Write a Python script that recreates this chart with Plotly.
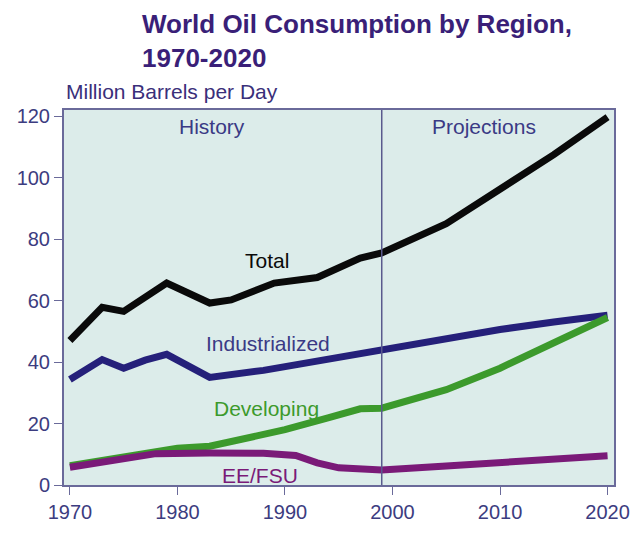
import plotly.graph_objects as go

total_years = [1970, 1973, 1975, 1979, 1983, 1985, 1989, 1993, 1997, 1999, 2005, 2010, 2015, 2020]
total_vals = [47, 57.8, 56.5, 65.7, 59.2, 60.2, 65.7, 67.5, 73.8, 75.5, 85, 96.5, 107.5, 119.7]

ind_years = [1970, 1973, 1975, 1977, 1979, 1983, 1988, 1993, 1999, 2005, 2010, 2015, 2020]
ind_vals = [34.3, 40.8, 38.0, 40.6, 42.5, 35.0, 37.3, 40.3, 44.4, 47.6, 50.6, 53.0, 55.2]

dev_years = [1970, 1975, 1980, 1983, 1987, 1990, 1994, 1997, 1999, 2005, 2010, 2015, 2020]
dev_vals = [6.3, 9.3, 12.0, 12.6, 15.5, 18.0, 21.8, 24.8, 25.0, 31.0, 38.0, 46.5, 54.5]

ee_years = [1970, 1975, 1978, 1983, 1988, 1991, 1993, 1995, 1999, 2005, 2010, 2015, 2020]
ee_vals = [5.8, 8.8, 10.2, 10.4, 10.3, 9.6, 7.2, 5.6, 4.9, 6.2, 7.3, 8.4, 9.5]

series = [
    ("Total", total_years, total_vals, "#0a0a0a"),
    ("Industrialized", ind_years, ind_vals, "#25207a"),
    ("Developing", dev_years, dev_vals, "#3c9a2c"),
    ("EE/FSU", ee_years, ee_vals, "#7a1a78"),
]

x_ticks = [1970, 1980, 1990, 2000, 2010, 2020]
y_ticks = [0, 20, 40, 60, 80, 100, 120]
divider_year = 1999

labels = [
    ("Total", 1988.3, 73, "#0a0a0a"),
    ("Industrialized", 1988.4, 46, "#3a3a85"),
    ("Developing", 1988.3, 24.8, "#3c9a2c"),
    ("EE/FSU", 1987.7, 3.0, "#7a1a78"),
    ("History", 1983.2, 116.5, "#3a3a85"),
    ("Projections", 2008.5, 116.5, "#3a3a85"),
]

title_text = "<b>World Oil Consumption by Region,<br>1970-2020</b>"
unit_text = "Million Barrels per Day"

FONT = "Liberation Sans, Arial, sans-serif"
AX = "#6a6a9a"
TICK = "#3c3c80"

fig = go.Figure()
for name, xs, ys, col in series:
    fig.add_trace(go.Scatter(x=xs, y=ys, mode="lines", name=name,
                             line=dict(color=col, width=7), showlegend=False))

fig.add_shape(type="line", x0=divider_year, x1=divider_year, y0=0, y1=1,
              xref="x", yref="paper", line=dict(color="#5a5a8e", width=1.5))

for txt, x, y, col in labels:
    fig.add_annotation(x=x, y=y, text=txt, showarrow=False,
                       font=dict(family=FONT, size=21, color=col))

fig.add_annotation(text=title_text, xref="paper", yref="paper",
                   x=(141 - 64) / 558, y=1 + (110 - 4) / 385,
                   xanchor="left", yanchor="top", align="left", showarrow=False,
                   font=dict(family=FONT, size=26, color="#3a1f78"))
fig.add_annotation(text=unit_text, xref="paper", yref="paper",
                   x=0, y=1 + (110 - 77) / 385,
                   xanchor="left", yanchor="top", align="left", showarrow=False,
                   font=dict(family=FONT, size=21, color="#3a2f7a"))

fig.update_layout(
    width=642, height=535,
    margin=dict(l=64, r=20, t=110, b=40),
    paper_bgcolor="white",
    plot_bgcolor="#dcecea",
    font=dict(family=FONT),
)

fig.update_xaxes(range=[1969.45, 2020.6], tickvals=x_ticks, ticks="outside",
                 ticklen=8, tickcolor=AX, showline=True, linecolor=AX, linewidth=2,
                 mirror=True, showgrid=False, zeroline=False,
                 tickfont=dict(family=FONT, size=20, color=TICK))
fig.update_yaxes(range=[0, 122], tickvals=y_ticks, ticks="outside",
                 ticklen=8, tickcolor=AX, showline=True, linecolor=AX, linewidth=2,
                 mirror=True, showgrid=False, zeroline=False,
                 tickfont=dict(family=FONT, size=20, color=TICK))

fig.write_html("out.html")
